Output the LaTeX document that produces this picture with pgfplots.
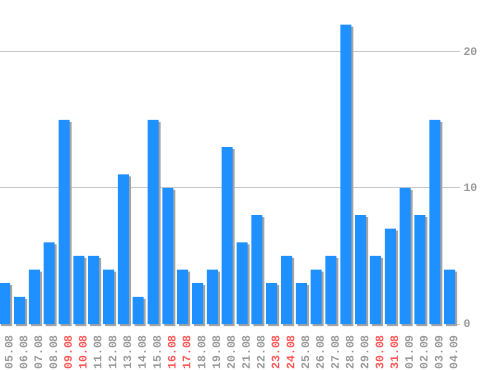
\documentclass[border=0pt]{standalone}
\usepackage{fontspec}
\setmainfont{Liberation Mono}
\usepackage{pgfplots}
\pgfplotsset{compat=1.18}
\definecolor{barblue}{HTML}{1E90FF}
\definecolor{shad}{HTML}{A4A4A4}
\definecolor{lbl}{HTML}{999999}
\definecolor{we}{HTML}{FF5555}
\definecolor{gridc}{HTML}{C8C8C8}
\begin{document}
\begin{tikzpicture}
\useasboundingbox (0,-46bp) rectangle (498bp,324bp);
\begin{axis}[
  at={(0,0)}, anchor=south west,
  scale only axis, width=456bp, height=324bp,
  xmin=-0.32, xmax=30.43, ymin=0, ymax=23.8,
  axis line style={draw=none},
  clip=false,
  ybar, bar width=11bp,
  xtick=data,
  xticklabels={05.08,06.08,07.08,08.08,\textcolor{we}{09.08},\textcolor{we}{10.08},11.08,12.08,13.08,14.08,15.08,\textcolor{we}{16.08},\textcolor{we}{17.08},18.08,19.08,20.08,21.08,22.08,\textcolor{we}{23.08},\textcolor{we}{24.08},25.08,26.08,27.08,28.08,29.08,\textcolor{we}{30.08},\textcolor{we}{31.08},01.09,02.09,03.09,04.09},
  x tick label style={font=\fontsize{11.5}{12}\selectfont\bfseries, text=lbl, rotate=90, anchor=east, inner sep=0pt, yshift=-4bp},
  xticklabel shift=7bp,
  major x tick style={draw=none},
  ytick={10,20},
  extra y ticks={0},
  extra y tick style={ymajorgrids=false},
  ymajorgrids,
  grid style={gridc, line width=0.8pt},
  yticklabel pos=right,
  ytick pos=right,
  tick align=outside,
  major tick length=4bp,
  y tick style={gridc, line width=0.8pt},
  y tick label style={font=\fontsize{11.5}{12}\selectfont\bfseries, text=lbl},
  /pgf/number format/assume math mode=true,
]
\addplot[fill=shad, draw=none, bar shift=2bp, yshift=-2bp] coordinates {
(0,3)(1,2)(2,4)(3,6)(4,15)(5,5)(6,5)(7,4)(8,11)(9,2)(10,15)(11,10)(12,4)(13,3)(14,4)(15,13)(16,6)(17,8)(18,3)(19,5)(20,3)(21,4)(22,5)(23,22)(24,8)(25,5)(26,7)(27,10)(28,8)(29,15)(30,4)};
\addplot[fill=barblue, draw=none, bar shift=0bp] coordinates {
(0,3)(1,2)(2,4)(3,6)(4,15)(5,5)(6,5)(7,4)(8,11)(9,2)(10,15)(11,10)(12,4)(13,3)(14,4)(15,13)(16,6)(17,8)(18,3)(19,5)(20,3)(21,4)(22,5)(23,22)(24,8)(25,5)(26,7)(27,10)(28,8)(29,15)(30,4)};
\end{axis}
\end{tikzpicture}
\end{document}
